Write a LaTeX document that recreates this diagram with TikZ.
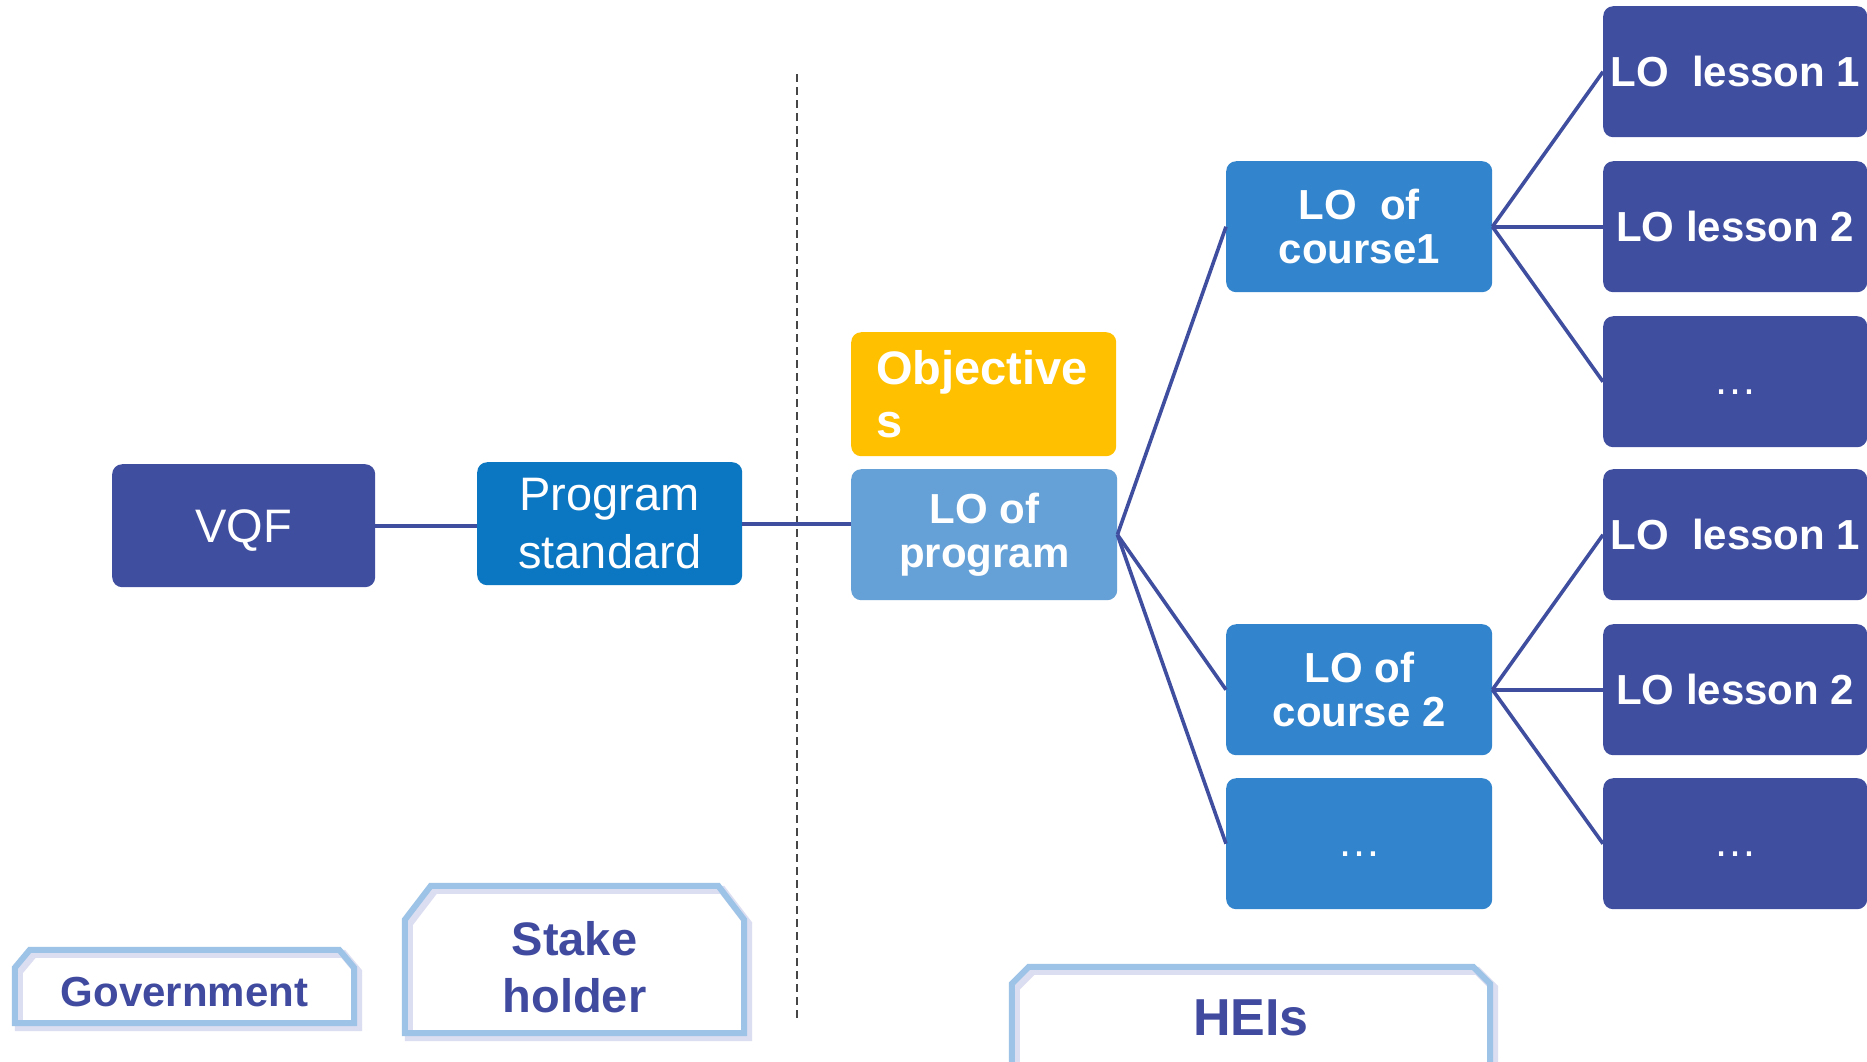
\documentclass[tikz,border=0pt]{standalone}
\usepackage{fontspec}
\setmainfont{Liberation Sans}
\definecolor{dkblue}{RGB}{64,78,160}
\definecolor{psblue}{RGB}{11,118,193}
\definecolor{objyel}{RGB}{255,192,0}
\definecolor{lopblue}{RGB}{101,161,214}
\definecolor{crsblue}{RGB}{50,132,205}
\definecolor{lblline}{RGB}{157,195,230}
\definecolor{lbltxt}{RGB}{64,75,160}
\definecolor{lblshadow}{RGB}{205,208,236}
\definecolor{dashgray}{RGB}{70,70,70}
\newcommand\chamf[3]{%
  \draw[lblshadowline,transform canvas={shift={(4pt,-4pt)}}] (#1.south west) -- ([yshift=-#3]#1.north west) -- ([xshift=#2]#1.north west) -- ([xshift=-#2]#1.north east) -- ([yshift=-#3]#1.north east) -- (#1.south east) -- cycle;
  \draw[lbloutline] (#1.south west) -- ([yshift=-#3]#1.north west) -- ([xshift=#2]#1.north west) -- ([xshift=-#2]#1.north east) -- ([yshift=-#3]#1.north east) -- (#1.south east) -- cycle;}
\newcommand\ellip{\raisebox{-13pt}{\fontsize{44}{44}\mdseries …}}
\tikzset{
  box/.style={rounded corners=10pt, inner sep=0pt, anchor=north west, text=white},
  regfont/.style={font=\fontsize{47}{58}\selectfont, align=center},
  boldfont/.style={font=\bfseries\fontsize{42}{44}\selectfont, align=center},
  darkbox/.style={box, fill=dkblue, minimum width=264pt, minimum height=131pt},
  crsbox/.style={box, fill=crsblue, minimum width=266pt, minimum height=131pt},
  lesson/.style={darkbox},
  dotsbox/.style={text height=0pt, text depth=0pt},
  conn/.style={draw=dkblue, line width=3.6pt},
  lbloutline/.style={draw=lblline, line width=6pt, line join=miter},
  lblshadowline/.style={draw=lblshadow, line width=8pt, line join=miter, opacity=0.7},
  lblbox/.style={inner sep=0pt, text=lbltxt, align=center, font=\bfseries\fontsize{42}{57}\selectfont}
}
\begin{document}
\begin{tikzpicture}[x=1pt,y=-1pt]
\useasboundingbox[fill=white] (0,0) rectangle (1867,1061);
% left part
\node[darkbox, regfont, text depth=0pt, minimum width=263pt, minimum height=123pt] (vqf) at (112,464) {VQF};
\node[box, fill=psblue, regfont, minimum width=265pt, minimum height=123pt] (ps) at (477,462) {Program\\standard};
% dashed divider
\coordinate (dtop) at (797,74);
\coordinate (dbot) at (797,1018);
\draw[dashgray, line width=2pt, dash pattern=on 8pt off 5pt] (dtop) -- (dbot);
% middle
\node[box, fill=objyel, minimum width=265pt, minimum height=124pt, text width=215pt, align=left,
      font=\bfseries\fontsize{47}{53}\selectfont] (obj) at (851,332) {Objective\\s};
\node[box, fill=lopblue, boldfont, minimum width=266pt, minimum height=131pt] (lop) at (851,469) {LO of\\program};
% courses
\node[crsbox, boldfont] (c1) at (1226,161) {LO\ \ of\\course1};
\node[crsbox, boldfont] (c2) at (1226,624) {LO of\\course 2};
\node[crsbox, dotsbox] (c3) at (1226,778) {\ellip};
% lessons
\node[lesson, boldfont] (l1) at (1603,6) {LO\ \ lesson 1};
\node[lesson, boldfont] (l2) at (1603,161) {LO lesson 2};
\node[lesson, dotsbox] (l3) at (1603,316) {\ellip};
\node[lesson, boldfont] (l4) at (1603,469) {LO\ \ lesson 1};
\node[lesson, boldfont] (l5) at (1603,624) {LO lesson 2};
\node[lesson, dotsbox] (l6) at (1603,778) {\ellip};
% connectors
\draw[conn] (vqf.east) -- (vqf.east -| ps.west);
\draw[conn] (ps.east) -- (ps.east -| lop.west);
\draw[conn] (lop.east) -- (c1.west);
\draw[conn] (lop.east) -- (c2.west);
\draw[conn] (lop.east) -- (c3.west);
\draw[conn] (c1.east) -- (l1.west);
\draw[conn] (c1.east) -- (l2.west);
\draw[conn] (c1.east) -- (l3.west);
\draw[conn] (c2.east) -- (l4.west);
\draw[conn] (c2.east) -- (l5.west);
\draw[conn] (c2.east) -- (l6.west);
% bottom labels
\node[lblbox, minimum width=339pt, minimum height=73pt] (gov) at (184.5,986.5) {};
\chamf{gov}{15pt}{18pt}
\node[lblbox] (govt) at (184.5,992) {Government};
\node[lblbox, minimum width=339pt, minimum height=147pt] (stk) at (574.5,959.5) {};
\chamf{stk}{26pt}{34pt}
\node[lblbox, font=\bfseries\fontsize{47}{57}\selectfont] (stkt) at (574.5,967) {Stake\\holder};
\node[lblbox, minimum width=478pt, minimum height=110pt] (hei) at (1251,1022) {};
\chamf{hei}{17pt}{17pt}
\node[lblbox, font=\bfseries\fontsize{52}{60}\selectfont] (heit) at (1251,1018) {HEIs};
\end{tikzpicture}
\end{document}
